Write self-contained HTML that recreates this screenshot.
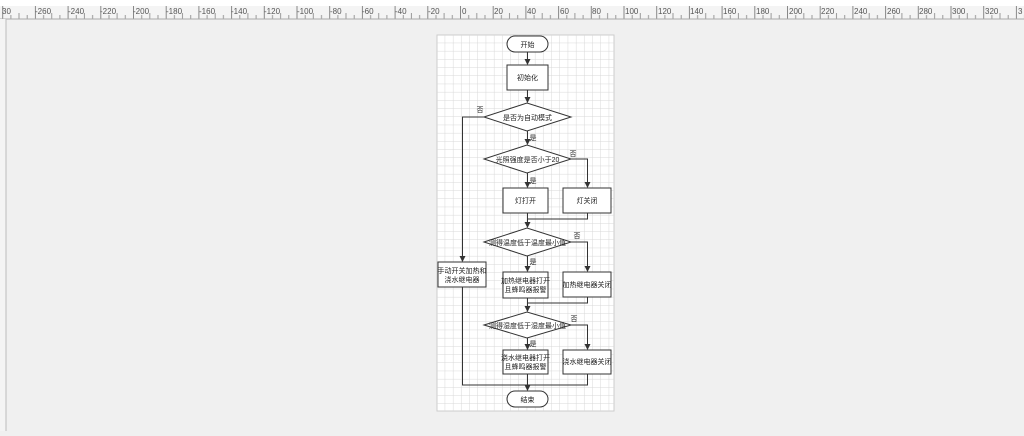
<!DOCTYPE html>
<html><head><meta charset="utf-8"><style>
body{margin:0;width:1024px;height:431px;overflow:hidden;background:#f0f0f0;font-family:"Liberation Sans","Noto Sans CJK SC",sans-serif}
svg text{font-family:"Liberation Sans","Noto Sans CJK SC",sans-serif}
</style></head><body>
<svg width="1024" height="431" xmlns="http://www.w3.org/2000/svg">
<defs>
<pattern id="tk" x="460" y="0" width="32.7" height="20" patternUnits="userSpaceOnUse">
<line x1="0.5" y1="6" x2="0.5" y2="19" stroke="#888" stroke-width="1"/>
<line x1="8.7" y1="15" x2="8.7" y2="19" stroke="#999"/>
<line x1="16.8" y1="13" x2="16.8" y2="19" stroke="#999"/>
<line x1="25" y1="15" x2="25" y2="19" stroke="#999"/>
</pattern>
<pattern id="gr" x="437" y="35" width="8.2" height="8.2" patternUnits="userSpaceOnUse">
<path d="M8.2 0V8.2H0" fill="none" stroke="#d8d8d8" stroke-width="1"/>
</pattern>
<marker id="a" markerWidth="6" markerHeight="6" refX="5" refY="3" orient="auto"><path d="M0,0L6,3L0,6z" fill="#333"/></marker>
</defs>
<rect x="0" y="0" width="1024" height="6" fill="#fff"/>
<rect x="0" y="6" width="1024" height="13" fill="#f4f4f4"/>
<rect x="0" y="6" width="1024" height="13" fill="url(#tk)"/>
<line x1="0" y1="19" x2="1024" y2="19" stroke="#aaa"/>
<rect x="0" y="19" width="6" height="412" fill="#f4f4f4"/>
<line x1="6" y1="19" x2="6" y2="431" stroke="#bbb"/>
<g font-size="8" fill="#555">
<text x="2" y="14">30</text><text x="35" y="14">-260</text><text x="68" y="14">-240</text><text x="100" y="14">-220</text><text x="133" y="14">-200</text><text x="166" y="14">-180</text><text x="199" y="14">-160</text><text x="231" y="14">-140</text><text x="264" y="14">-120</text><text x="297" y="14">-100</text><text x="330" y="14">-80</text><text x="362" y="14">-60</text><text x="395" y="14">-40</text><text x="428" y="14">-20</text><text x="462" y="14">0</text><text x="494" y="14">20</text><text x="527" y="14">40</text><text x="560" y="14">60</text><text x="592" y="14">80</text><text x="625" y="14">100</text><text x="658" y="14">120</text><text x="690" y="14">140</text><text x="723" y="14">160</text><text x="756" y="14">180</text><text x="789" y="14">200</text><text x="821" y="14">220</text><text x="854" y="14">240</text><text x="887" y="14">260</text><text x="919" y="14">280</text><text x="952" y="14">300</text><text x="985" y="14">320</text><text x="1018" y="14">3</text>
</g>
<rect x="437" y="35" width="177" height="376" fill="#fff" stroke="#ccc"/>
<rect x="437" y="35" width="177" height="376" fill="url(#gr)"/>
<g fill="#fff" stroke="#333" stroke-width="1">
<rect x="507" y="36" width="41" height="16" rx="8"/>
<rect x="507" y="65" width="41" height="25"/>
<polygon points="484,117 527,103 571,117 527,131"/>
<polygon points="484,159 527,145 571,159 527,173"/>
<rect x="503" y="188" width="45" height="25"/>
<rect x="563" y="188" width="48" height="25"/>
<polygon points="484,242 527,228 571,242 527,256"/>
<rect x="438" y="262" width="48" height="25"/>
<rect x="503" y="272" width="45" height="26"/>
<rect x="563" y="272" width="48" height="25"/>
<polygon points="484,325 527,312 571,325 527,338"/>
<rect x="503" y="350" width="45" height="24"/>
<rect x="563" y="350" width="48" height="24"/>
<rect x="507" y="391" width="41" height="16" rx="8"/>
</g>
<g fill="none" stroke="#333" stroke-width="1">
<path d="M527.5 52V64" marker-end="url(#a)"/>
<path d="M527.5 90V102" marker-end="url(#a)"/>
<path d="M527.5 131V144" marker-end="url(#a)"/>
<path d="M527.5 173V187" marker-end="url(#a)"/>
<path d="M571 159H587.5V187" marker-end="url(#a)"/>
<path d="M527.5 213V227" marker-end="url(#a)"/>
<path d="M587.5 213V219H527.5"/>
<path d="M527.5 256V271" marker-end="url(#a)"/>
<path d="M571 242H587.5V271" marker-end="url(#a)"/>
<path d="M527.5 298V311" marker-end="url(#a)"/>
<path d="M587.5 297V303H527.5"/>
<path d="M527.5 338V349" marker-end="url(#a)"/>
<path d="M571 325H587.5V349" marker-end="url(#a)"/>
<path d="M527.5 374V390" marker-end="url(#a)"/>
<path d="M587.5 374V385H462.5V287"/>
<path d="M484 117H462.5V261" marker-end="url(#a)"/>
</g>
<g font-size="7" fill="#222" text-anchor="middle">
<text x="527.5" y="47">开始</text>
<text x="527.5" y="80">初始化</text>
<text x="527.5" y="120">是否为自动模式</text>
<text x="527.5" y="162">光照强度是否小于20</text>
<text x="525.5" y="203">灯打开</text>
<text x="587" y="203">灯关闭</text>
<text x="527.5" y="245">测得温度低于温度最小值</text>
<text x="462" y="273">手动开关加热和</text><text x="462" y="282">浇水继电器</text>
<text x="525.5" y="283">加热继电器打开</text><text x="525.5" y="292">且蜂鸣器报警</text>
<text x="587" y="287">加热继电器关闭</text>
<text x="527.5" y="328">测得湿度低于湿度最小值</text>
<text x="525.5" y="360">浇水继电器打开</text><text x="525.5" y="369">且蜂鸣器报警</text>
<text x="587" y="364">浇水继电器关闭</text>
<text x="527.5" y="402">结束</text>
<text x="480" y="112">否</text>
<text x="533" y="140">是</text>
<text x="573" y="156">否</text>
<text x="533" y="183">是</text>
<text x="577" y="238">否</text>
<text x="533" y="264">是</text>
<text x="574" y="321">否</text>
<text x="533" y="346">是</text>
</g>
</svg>
</body></html>
